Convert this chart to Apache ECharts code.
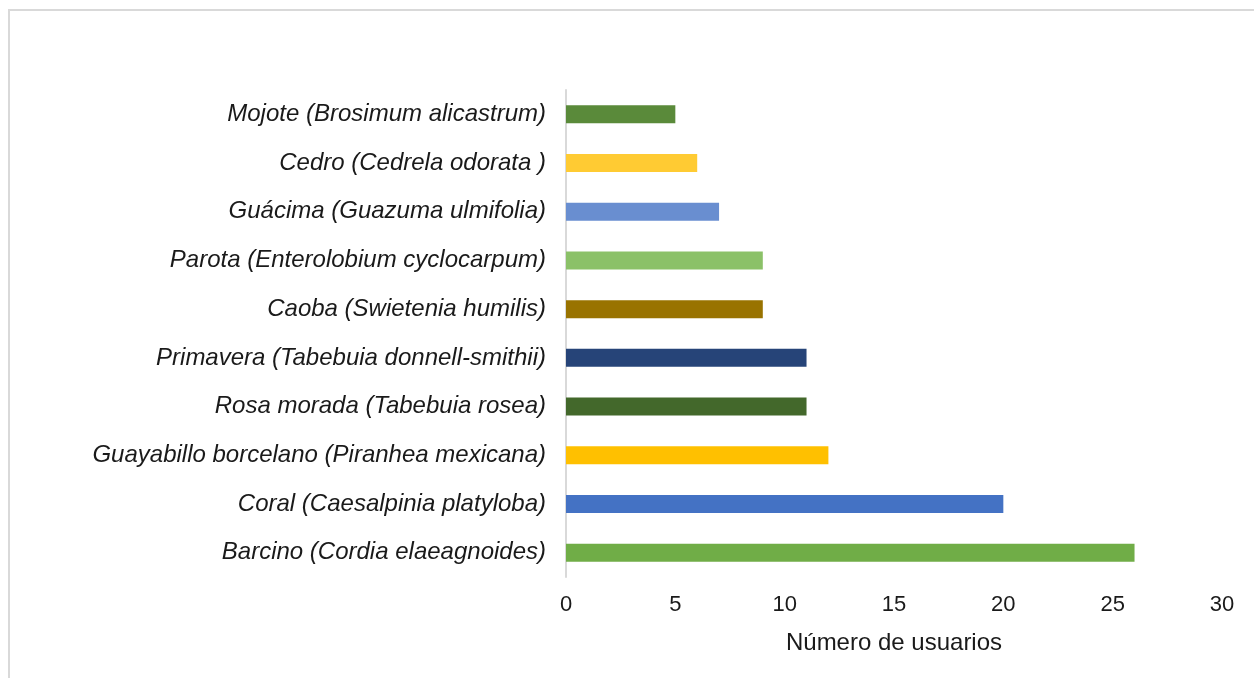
<!DOCTYPE html>
<html>
<head>
<meta charset="utf-8">
<script src="https://cdn.jsdelivr.net/npm/echarts@6/dist/echarts.min.js"></script>
<style>
  html, body { margin: 0; padding: 0; background: #fff; }
  #chart { width: 1254px; height: 678px; }
</style>
</head>
<body>
<div id="chart"></div>
<script>
// Species listed top to bottom
const species = [
  'Mojote (Brosimum alicastrum)',
  'Cedro (Cedrela odorata )',
  'Guácima (Guazuma ulmifolia)',
  'Parota (Enterolobium cyclocarpum)',
  'Caoba (Swietenia humilis)',
  'Primavera (Tabebuia donnell-smithii)',
  'Rosa morada (Tabebuia rosea)',
  'Guayabillo borcelano (Piranhea mexicana)',
  'Coral (Caesalpinia platyloba)',
  'Barcino (Cordia elaeagnoides)'
];
const users = [5, 6, 7, 9, 9, 11, 11, 12, 20, 26];
const barColors = ['#5a8a3a', '#ffcb33', '#698ed0', '#8bc168', '#997300',
                   '#264478', '#43682b', '#ffc000', '#4472c4', '#70ad47'];
const axisTitle = 'Número de usuarios';

const font = 'Liberation Sans, Arial, sans-serif';
const chart = echarts.init(document.getElementById('chart'), null, { renderer: 'canvas' });
chart.setOption({
  animation: false,
  backgroundColor: '#fff',
  graphic: [{
    type: 'rect',
    shape: { x: 9, y: 10, width: 1300, height: 700 },
    style: { fill: 'none', stroke: '#d9d9d9', lineWidth: 2 },
    silent: true
  }],
  grid: { left: 566, right: 32, top: 90, bottom: 101, containLabel: false },
  xAxis: {
    type: 'value',
    min: 0, max: 30, interval: 5,
    splitLine: { show: false },
    axisLine: { show: false },
    axisTick: { show: false },
    axisLabel: { color: '#1a1a1a', fontFamily: font, fontSize: 22, margin: 17 },
    name: axisTitle,
    nameLocation: 'middle',
    nameGap: 54,
    nameTextStyle: { color: '#1a1a1a', fontFamily: font, fontSize: 24 }
  },
  yAxis: {
    type: 'category',
    inverse: true,
    data: species,
    axisLine: { show: true, lineStyle: { color: '#d9d9d9', width: 2 } },
    axisTick: { show: false },
    axisLabel: { color: '#1a1a1a', fontFamily: font, fontSize: 24, fontStyle: 'italic', margin: 20 }
  },
  series: [{
    type: 'bar',
    data: users.map((v, i) => ({ value: v, itemStyle: { color: barColors[i] } })),
    barWidth: 18
  }]
});
</script>
</body>
</html>
